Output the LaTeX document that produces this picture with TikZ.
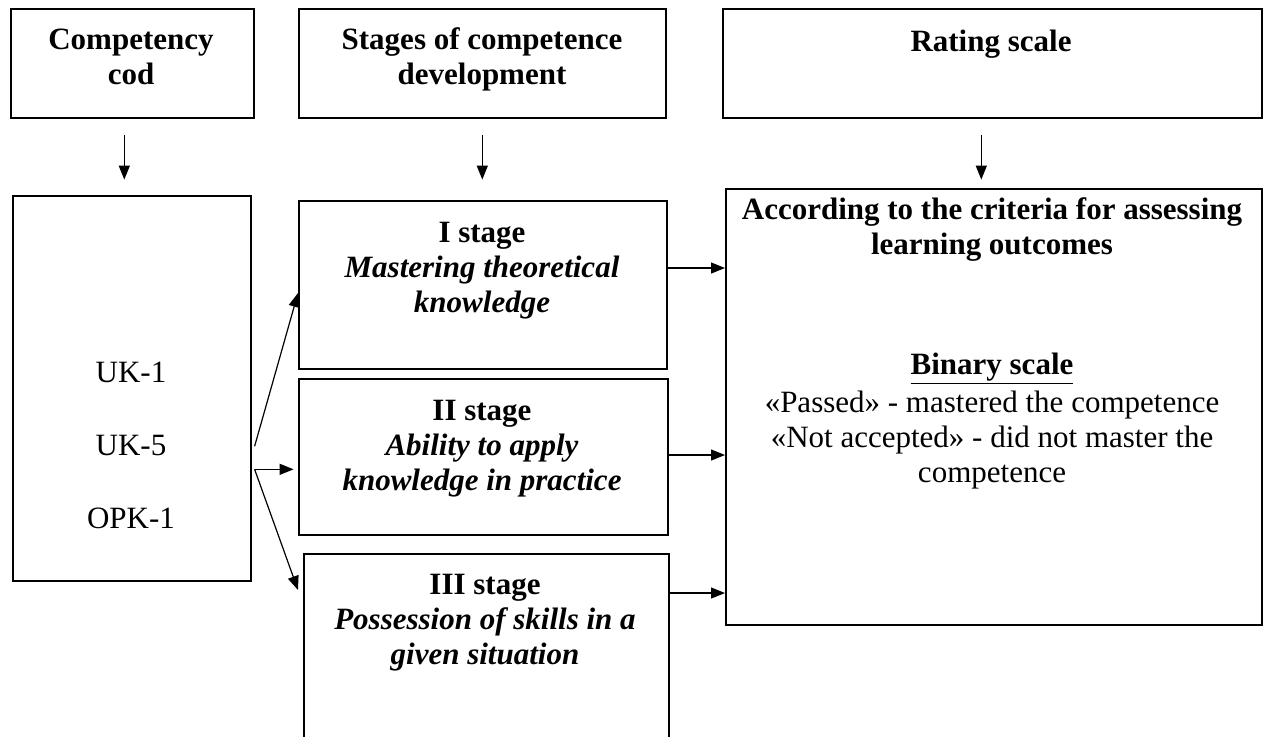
\documentclass[tikz,border=0pt]{standalone}
\usepackage{fontspec}
\setmainfont{Liberation Serif}
\usetikzlibrary{calc,arrows.meta}

\tikzset{
  box/.style={draw, line width=0.8pt, inner sep=0pt, anchor=north west},
  txt/.style={align=center, anchor=base, inner sep=0pt,
    font=\fontsize{15.5}{17.5}\selectfont},
  btxt/.style={txt, font=\fontsize{15.5}{17.5}\selectfont\bfseries},
  arr/.style={-{Triangle[length=7pt,width=5.5pt]}, line width=0.6pt},
}

\begin{document}
\begin{tikzpicture}[x=0.5pt,y=-0.5pt]

  \useasboundingbox (0,0) rectangle (1265,736);

  % header row
  \node[box, minimum width=121.5pt, minimum height=54.5pt] (hcod)   at (10,8)  {};
  \node[box, minimum width=183.5pt, minimum height=54.5pt] (hstage) at (298,8) {};
  \node[box, minimum width=269.5pt, minimum height=54.5pt] (hscale) at (722,8) {};

  % (base = last line)
  \node[btxt] (tcod)   at (131,84) {Competency\\cod};
  \node[btxt] (tstage) at (482,84) {Stages of competence\\development};
  \node[btxt] (tscale) at (991,51) {Rating scale};

  % lower row
  \node[box, minimum width=119pt,   minimum height=192.5pt] (codes) at (12,195)  {};
  \node[box, minimum width=184pt,   minimum height=84pt]    (st1)   at (298,200) {};
  \node[box, minimum width=184.5pt, minimum height=78pt]    (st2)   at (298,378) {};
  \node[box, minimum width=182.5pt, minimum height=96pt]    (st3)   at (303,553) {};
  \node[box, minimum width=268pt,   minimum height=218pt]   (scale) at (725,188) {};

  \foreach \c [count=\i] in {UK-1,UK-5,OPK-1}
    \node[txt] (code\i) at (131,{382+73*(\i-1)}) {\c};

  \node[btxt] (tst1) at (482,312)
    {I stage\\\textit{Mastering theoretical}\\\textit{knowledge}};
  \node[btxt] (tst2) at (482,490)
    {II stage\\\textit{Ability to apply}\\\textit{knowledge in practice}};
  \node[btxt] (tst3) at (485,664)
    {III stage\\\textit{Possession of skills in a}\\\textit{given situation}};

  \node[btxt] (crit) at (992,254)
    {According to the criteria for assessing\\learning outcomes};
  \node[btxt] (bin) at (992,374) {\underline{Binary scale}};
  \node[txt] (pass) at (992,482)
    {«Passed» - mastered the competence\\«Not accepted» - did not master the\\competence};

  % arrows down
  \draw[arr] ($(hcod.south)+(-8,16)$)   -- ($(hcod.south)+(-8,61)$);
  \draw[arr] ($(hstage.south)+(0,16)$)  -- ($(hstage.south)+(0,61)$);
  \draw[arr] ($(hscale.south)+(-11,16)$) -- ($(hscale.south)+(-11,61)$);

  % fork from the codes
  \coordinate (f1) at ($(codes.east)+(3,58)$);
  \coordinate (f2) at ($(codes.east)+(3,81)$);
  \draw[arr] (f1) -- ($(st1.north west)+(0,93)$);
  \draw[arr] (f2) -- ($(f2)+(39,0)$);
  \draw[arr] (f2) -- ($(st3.north west)+(-5,37)$);

  % stages to the scale
  \coordinate (o1) at ($(st1.north east)+(0,68)$);
  \coordinate (o2) at ($(st2.north east)+(0,77)$);
  \coordinate (o3) at ($(st3.north east)+(0,40)$);
  \foreach \o in {o1,o2,o3}
    \draw[arr] (\o) -- (\o -| scale.west);

\end{tikzpicture}
\end{document}
